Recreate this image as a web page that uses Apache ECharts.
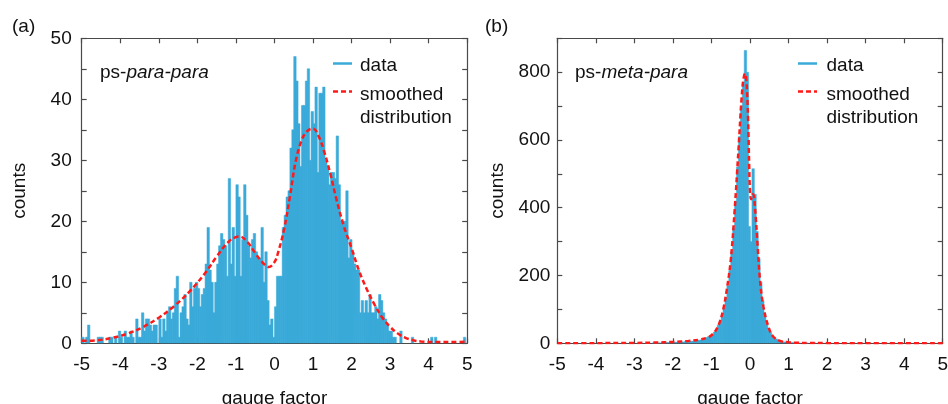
<!DOCTYPE html>
<html>
<head>
<meta charset="utf-8">
<script src="https://cdn.jsdelivr.net/npm/echarts@6/dist/echarts.min.js"></script>
<style>
html,body{margin:0;padding:0;background:#fff;}
#c{width:948px;height:404px;}
</style>
</head>
<body>
<div id="c"></div>
<script>
// ---- data ----
var binStart = -5, binWidth = 0.05;
// (a) ps-para-para histogram counts, 200 bins of 0.05 from -5 to 5
var countsA = [
 1,0,1,3,0,0,0,0,1,1, 1,0,0,0,1,1,0,1,0,2,
 1,0,2,1,1,2,1,0,4,1, 1,5,2,4,4,3,2,3,3,0,
 4,1,4,2,5,6,4,5,9,11, 1,5,6,8,4,3,10,6,9,10,
 9,6,8,9,13,19,12,10,5,10, 13,16,18,17,16,11,27,13,19,11,
 26,24,11,17,26,21,16,14,17,18, 15,14,14,19,10,15,7,3,4,1,
 6,11,11,11,19,21,24,25,32,35, 47,43,36,29,39,39,43,45,30,38,
 36,42,28,41,41,42,30,29,26,28, 28,27,34,26,20,20,20,25,14,17,
 15,13,12,12,5,7,5,7,5,8, 5,5,6,4,8,7,5,4,3,2,
 2,1,1,0,0,2,0,0,0,0, 0,1,0,0,0,0,0,0,0,0,
 0,1,0,1,0,0,0,0,0,0, 0,0,0,0,0,0,0,0,1,0
];
// (b) ps-meta-para histogram counts, 200 bins of 0.05 from -5 to 5
var countsB = [
 0,0,0,0,0,0,0,0,0,0, 0,0,0,0,0,0,0,0,0,0,
 0,0,0,0,0,0,0,0,0,0, 0,0,0,0,0,0,0,0,0,0,
 0,0,0,1,0,0,1,0,0,1, 1,1,1,1,2,1,2,2,2,3,
 3,3,3,4,4,4,5,5,5,6, 6,7,8,9,10,12,14,17,20,23,
 27,33,42,53,66,82,105,135,170,215, 270,340,420,520,610,700,770,864,800,345,
 300,515,440,330,250,180,125,90,62,45, 32,24,18,13,10,7,5,4,3,2,
 2,2,1,1,1,1,0,1,0,1, 0,0,0,1,0,0,0,0,0,0,
 0,0,0,0,0,0,0,0,0,0, 0,0,0,0,0,0,0,0,0,0,
 0,0,0,0,0,0,0,0,0,0, 0,0,0,0,0,0,0,0,0,0,
 0,0,0,0,0,0,0,0,0,0, 0,0,0,0,0,0,0,0,0,0
];
// smoothed distributions: gauge factor, counts
var smoothAx = [-5,-4.6,-4.2,-3.8,-3.4,-3.0,-2.6,-2.2,-1.8,-1.5,-1.2,-1.0,-0.9,-0.7,-0.5,-0.3,-0.15,0.0,0.1,0.25,0.4,0.55,0.7,0.85,1.0,1.15,1.3,1.45,1.6,1.8,2.0,2.2,2.4,2.6,2.8,3.0,3.2,3.4,3.6,3.8,4.2,4.6,5.0];
var smoothAy = [0.4,0.5,0.9,1.6,2.7,4.2,6.1,8.5,11.5,14.2,16.6,17.4,17.5,16.6,14.8,13.2,12.5,13.3,15.0,18.7,24.0,29.8,33.2,34.8,35.2,33.9,31.2,27.8,23.8,19.2,15.6,11.8,8.8,6.3,4.2,2.7,1.6,0.9,0.5,0.3,0.2,0.2,0.3];
var smoothBx = [-5,-4,-3,-2.5,-2,-1.6,-1.3,-1.1,-1.0,-0.9,-0.8,-0.7,-0.6,-0.5,-0.4,-0.3,-0.22,-0.17,-0.13,-0.09,-0.05,-0.02,0.0,0.03,0.07,0.1,0.15,0.2,0.26,0.35,0.48,0.6,0.8,1.0,1.2,1.5,2,3,5];
var smoothBy = [0.5,0.5,1,2,4,7,11,17,24,36,58,97,160,245,390,569,720,780,796,770,660,520,450,425,440,435,370,284,186,107,48,20,6,3,1.5,1,0.5,0.3,0.3];
var xTicks = [-5,-4,-3,-2,-1,0,1,2,3,4,5];

// ---- build ----
function histData(counts){
  var out = [];
  for (var i = 0; i < counts.length; i++) {
    var x0 = binStart + i * binWidth;
    out.push([x0, x0 + binWidth, counts[i]]);
  }
  return out;
}
function pairs(xs, ys){ return xs.map(function(x,i){ return [x, ys[i]]; }); }

var FONT = "'Liberation Sans', Arial, sans-serif";
var AX = '#4a4a4a';
var BLUE = '#3aaad9';
var RED = '#ff1a1a';

function renderBin(params, api){
  var c = api.value(2);
  if (!c) return null;
  var p0 = api.coord([api.value(0), c]);
  var p1 = api.coord([api.value(1), 0]);
  return {
    type: 'rect',
    shape: {x: p0[0], y: p0[1], width: p1[0] - p0[0] + 0.5, height: p1[1] - p0[1]},
    style: {fill: BLUE, stroke: BLUE, lineWidth: 0.5}
  };
}

function xAx(gi, pos, showLabel, name){
  return {
    type: 'value', gridIndex: gi, position: pos, min: -5, max: 5, interval: 1,
    name: name || '', nameLocation: 'middle', nameGap: 46,
    nameTextStyle: {fontFamily: FONT, fontSize: 19, color: '#111'},
    axisLine: {onZero: false, lineStyle: {color: AX, width: 1.2}},
    axisTick: {inside: true, length: 5, lineStyle: {color: AX, width: 1.2}},
    axisLabel: {show: showLabel, fontFamily: FONT, fontSize: 19, color: '#111', margin: 12},
    splitLine: {show: false}
  };
}
function yAx(gi, pos, showLabel, max, step, labelStep, margin, name, nameGap){
  return {
    type: 'value', gridIndex: gi, position: pos, min: 0, max: max, interval: step,
    name: name || '', nameLocation: 'middle', nameGap: nameGap || 0,
    nameTextStyle: {fontFamily: FONT, fontSize: 19, color: '#111'},
    axisLine: {onZero: false, lineStyle: {color: AX, width: 1.2}},
    axisTick: {inside: true, length: 5, lineStyle: {color: AX, width: 1.2}},
    axisLabel: {show: showLabel, fontFamily: FONT, fontSize: 19, color: '#111', margin: margin,
      formatter: function(v){ return (v % labelStep === 0) ? String(v) : ''; }},
    splitLine: {show: false}
  };
}

var chart = echarts.init(document.getElementById('c'), null, {renderer: 'canvas'});
var opt = {
  animation: false,
  backgroundColor: '#fff',
  grid: [
    {left: 81.7, top: 38.3, width: 385.5, height: 305, containLabel: false, outerBoundsMode: 'none'},
    {left: 557.3, top: 38.3, width: 385.4, height: 305, containLabel: false, outerBoundsMode: 'none'}
  ],
  xAxis: [
    xAx(0, 'bottom', true, 'gauge factor'),
    xAx(0, 'top', false),
    xAx(1, 'bottom', true, 'gauge factor'),
    xAx(1, 'top', false)
  ],
  yAxis: [
    yAx(0, 'left', true, 50, 5, 10, 10, 'counts', 52),
    yAx(0, 'right', false, 50, 5, 10, 10),
    yAx(1, 'left', true, 900, 100, 200, 7, 'counts', 50),
    yAx(1, 'right', false, 900, 100, 200, 7)
  ],
  series: [
    {type: 'custom', name: 'data', xAxisIndex: 0, yAxisIndex: 0, renderItem: renderBin,
     encode: {x: [0, 1], y: 2}, data: histData(countsA), clip: true, z: 2},
    {type: 'line', name: 'smoothed distribution', xAxisIndex: 0, yAxisIndex: 0,
     data: pairs(smoothAx, smoothAy), smooth: 0.4, showSymbol: false, clip: true, z: 3,
     lineStyle: {color: RED, width: 2.5, type: [5, 3]}},
    {type: 'custom', name: 'data', xAxisIndex: 2, yAxisIndex: 2, renderItem: renderBin,
     encode: {x: [0, 1], y: 2}, data: histData(countsB), clip: true, z: 2},
    {type: 'line', name: 'smoothed distribution', xAxisIndex: 2, yAxisIndex: 2,
     data: pairs(smoothBx, smoothBy), smooth: 0.4, showSymbol: false, clip: true, z: 3,
     lineStyle: {color: RED, width: 2.5, type: [5, 3]}}
  ],
  graphic: [
    {type: 'text', left: 12, top: 17, style: {text: '(a)', font: '19px ' + FONT, fill: '#111'}},
    {type: 'text', left: 485, top: 17, style: {text: '(b)', font: '19px ' + FONT, fill: '#111'}},
    {type: 'text', x: 100, y: 72.5, style: {text: '{n|ps-}{i|para-para}', textVerticalAlign: 'middle',
      rich: {n: {fontFamily: FONT, fontSize: 19, fill: '#111', color: '#111'},
             i: {fontFamily: FONT, fontSize: 19, fontStyle: 'italic', fill: '#111', color: '#111'}}}},
    {type: 'text', x: 575, y: 72.5, style: {text: '{n|ps-}{i|meta-para}', textVerticalAlign: 'middle',
      rich: {n: {fontFamily: FONT, fontSize: 19, fill: '#111', color: '#111'},
             i: {fontFamily: FONT, fontSize: 19, fontStyle: 'italic', fill: '#111', color: '#111'}}}},
    // legend (a)
    {type: 'line', shape: {x1: 333, y1: 63.5, x2: 352, y2: 63.5}, style: {stroke: BLUE, lineWidth: 2.5}},
    {type: 'text', x: 360, y: 66, style: {text: 'data', font: '19px ' + FONT, fill: '#111', textVerticalAlign: 'middle'}},
    {type: 'line', shape: {x1: 333, y1: 91.5, x2: 352, y2: 91.5}, style: {stroke: RED, lineWidth: 2.5, lineDash: [5, 3]}},
    {type: 'text', x: 360, y: 94.5, style: {text: 'smoothed', font: '19px ' + FONT, fill: '#111', textVerticalAlign: 'middle'}},
    {type: 'text', x: 360, y: 118, style: {text: 'distribution', font: '19px ' + FONT, fill: '#111', textVerticalAlign: 'middle'}},
    // legend (b)
    {type: 'line', shape: {x1: 798, y1: 63.5, x2: 817, y2: 63.5}, style: {stroke: BLUE, lineWidth: 2.5}},
    {type: 'text', x: 826.5, y: 66, style: {text: 'data', font: '19px ' + FONT, fill: '#111', textVerticalAlign: 'middle'}},
    {type: 'line', shape: {x1: 798, y1: 91.5, x2: 817, y2: 91.5}, style: {stroke: RED, lineWidth: 2.5, lineDash: [5, 3]}},
    {type: 'text', x: 826.5, y: 94.5, style: {text: 'smoothed', font: '19px ' + FONT, fill: '#111', textVerticalAlign: 'middle'}},
    {type: 'text', x: 826.5, y: 118, style: {text: 'distribution', font: '19px ' + FONT, fill: '#111', textVerticalAlign: 'middle'}}
  ]
};
chart.setOption(opt);
</script>
</body>
</html>
